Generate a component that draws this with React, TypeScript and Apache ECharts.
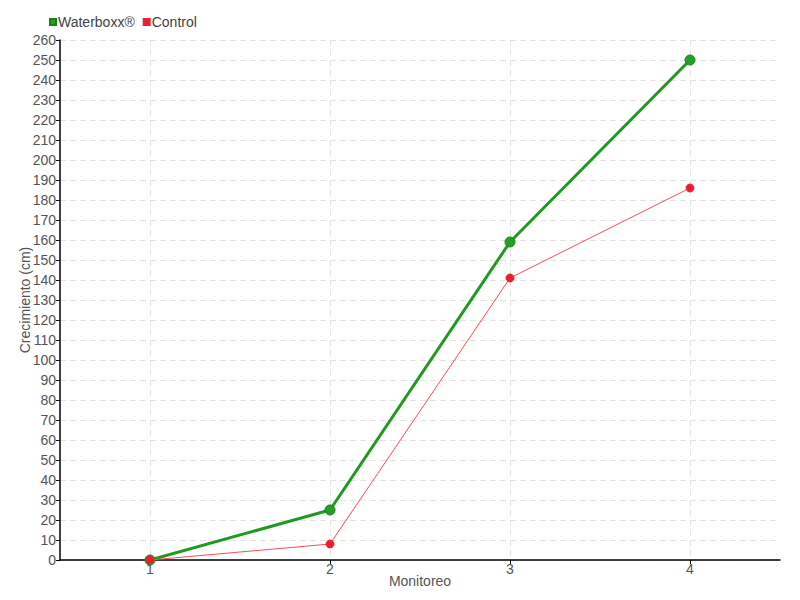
import React, { useEffect, useRef } from "react";
import * as echarts from "echarts";

const categories = ["1", "2", "3", "4"];
const waterboxx = [0, 25, 159, 250];
const control = [0, 8, 141, 186];
const seriesNames = ["Waterboxx®", "Control"];
const xTitle = "Monitoreo";
const yTitle = "Crecimiento (cm)";

const FONT = "'Liberation Sans', Arial, sans-serif";

export default function App() {
  const ref = useRef<HTMLDivElement>(null);
  useEffect(() => {
    if (!ref.current) return;
    const chart = echarts.init(ref.current, undefined, { renderer: "svg" });
    chart.setOption({
      animation: false,
      backgroundColor: "#ffffff",
      textStyle: { fontFamily: FONT },
      legend: {
        left: 44,
        top: 10,
        icon: "rect",
        itemWidth: 6,
        itemHeight: 6,
        itemGap: 8,
        textStyle: { color: "#444", fontSize: 14, fontFamily: FONT, padding: [0, 0, 0, -3] },
        data: seriesNames,
      },
      grid: { left: 60, right: 20, top: 40, bottom: 40 },
      xAxis: {
        type: "category",
        data: categories,
        boundaryGap: true,
        name: xTitle,
        nameLocation: "middle",
        nameGap: 14,
        nameMoveOverlap: false,
        nameTextStyle: { color: "#555", fontSize: 14, fontFamily: FONT },
        axisLine: { lineStyle: { color: "#000", width: 1.5 } },
        axisTick: { show: true, alignWithLabel: true, length: 4, lineStyle: { color: "#000" } },
        axisLabel: { color: "#555", fontSize: 14, fontFamily: FONT, margin: 2 },
        splitLine: { show: true, alignWithLabel: true, lineStyle: { color: "#e3e3e3", type: [6, 4] } },
      },
      yAxis: {
        type: "value",
        min: 0,
        max: 260,
        interval: 10,
        name: yTitle,
        nameLocation: "middle",
        nameGap: 28,
        nameMoveOverlap: false,
        nameTextStyle: { color: "#555", fontSize: 14, fontFamily: FONT },
        axisLine: { show: true, lineStyle: { color: "#000", width: 1.5 } },
        axisTick: { show: true, length: 4, lineStyle: { color: "#000" } },
        axisLabel: { color: "#555", fontSize: 14, fontFamily: FONT, margin: 4 },
        splitLine: { show: true, lineStyle: { color: "#e3e3e3", type: [6, 4] } },
      },
      series: [
        {
          name: seriesNames[0],
          type: "line",
          data: waterboxx,
          symbol: "circle",
          symbolSize: 10,
          itemStyle: { color: "#22a022", borderColor: "#1a7f1a", borderWidth: 1 },
          lineStyle: { color: "#1f9a1f", width: 3 },
          z: 2,
        },
        {
          name: seriesNames[1],
          type: "line",
          data: control,
          symbol: "circle",
          symbolSize: 8,
          itemStyle: { color: "#ee1c2e", borderColor: "#e0283a", borderWidth: 1 },
          lineStyle: { color: "#ff4a5a", width: 1 },
          z: 3,
        },
      ],
    });
    return () => chart.dispose();
  }, []);
  return (
    <div
      ref={ref}
      style={{ position: "fixed", left: 0, top: 0, width: 800, height: 600 }}
    />
  );
}
